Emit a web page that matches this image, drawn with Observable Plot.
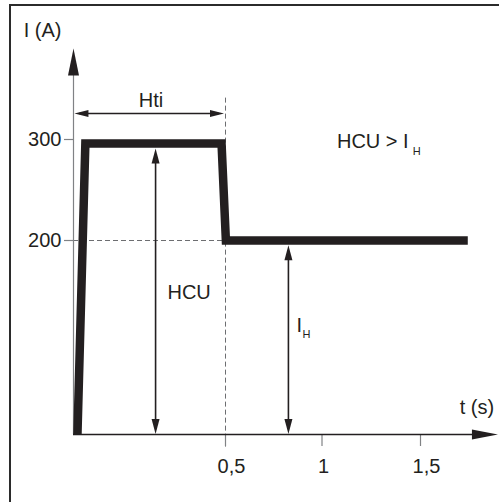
<!DOCTYPE html>
<html><head><meta charset="utf-8">
<script src="https://cdn.jsdelivr.net/npm/d3@7"></script>
<script src="https://cdn.jsdelivr.net/npm/@observablehq/plot@0.6"></script>
<style>
html,body{margin:0;padding:0;background:#fff;}
#wrap{position:relative;width:499px;height:502px;overflow:hidden;}
#wrap svg{position:absolute;left:0;top:0;}
#border{position:absolute;left:9px;top:4px;width:700px;height:700px;border-left:2px solid #2b2b2b;border-top:2.5px solid #2b2b2b;}
</style></head>
<body><div id="wrap"><div id="border"></div></div>
<script>
// Current profile (schematic): time in s, current in A
const signalT = [0.013, 0.039, 0.487, 0.502, 1.74];
const signalI = [0, 296, 296, 200, 200];
const yTicks = [200, 300];
const yTickLabels = ["200", "300"];
const xTicks = [0.5, 1, 1.5];
const xTickLabels = ["0,5", "1", "1,5"];

const signal = signalT.map((t, i) => ({t, I: signalI[i]}));
const ink = "#231f20";
const font = "Liberation Sans, Arial, Helvetica, sans-serif";

// filled arrowhead symbol, tip at the point, pointing along (dx,dy) in screen space
const head = (dx, dy, len, hw) => ({
  draw(ctx) {
    const bx = -dx * len, by = -dy * len, px = -dy * hw, py = dx * hw;
    ctx.moveTo(0, 0);
    ctx.lineTo(bx + px, by + py);
    ctx.lineTo(bx - px, by - py);
    ctx.closePath();
  }
});

const headDot = (pts, sym) => Plot.dot(pts, {x: "t", y: "I", symbol: sym, fill: ink, stroke: "none"});

const txt = (label, t, I, opts = {}) =>
  Plot.text([{t, I, label}], {x: "t", y: "I", text: "label", fill: ink, fontFamily: font, fontSize: 20,
    textAnchor: "start", lineAnchor: "bottom", ...opts});

const chart = Plot.plot({
  width: 499, height: 502, margin: 0,
  x: {type: "linear", domain: [0, 0.5, 1, 1.5], range: [73, 225, 321.5, 420], axis: null},
  y: {type: "linear", domain: [0, 200, 300], range: [434, 240, 139], axis: null},
  style: {background: "transparent", overflow: "visible"},
  marks: [
    // dashed guides
    Plot.ruleY([200], {x1: 0, x2: 0.49, stroke: "#6d6e71", strokeWidth: 1, strokeDasharray: "5,3"}),
    Plot.ruleX([0.5], {y1: -13, y2: 343.6, stroke: "#6d6e71", strokeWidth: 1, strokeDasharray: "5,3"}),
    // ticks
    Plot.ruleY(yTicks, {x1: -0.0296, x2: 0, stroke: "#808285", strokeWidth: 1.2}),
    Plot.ruleX(xTicks, {y1: 0, y2: -12.4, stroke: "#808285", strokeWidth: 1.2}),
    // axes
    Plot.ruleX([0], {y1: 0, y2: 372, stroke: "#808285", strokeWidth: 1.2}),
    headDot([{t: 0, I: 390}], head(0, -1, 27, 5.5)),
    Plot.ruleY([0], {x1: 0, x2: 1.8, stroke: ink, strokeWidth: 1.4}),
    headDot([{t: 1.893, I: 0}], head(1, 0, 26, 5)),
    // signal
    Plot.line(signal, {x: "t", y: "I", stroke: ink, strokeWidth: 8.5, strokeLinejoin: "miter",
      strokeLinecap: "butt", strokeMiterlimit: 10}),
    // Hti double arrow
    Plot.ruleY([325.7], {x1: 0.02, x2: 0.48, stroke: ink, strokeWidth: 1.4}),
    headDot([{t: 0.003, I: 325.7}], head(-1, 0, 14, 3.5)),
    headDot([{t: 0.495, I: 325.7}], head(1, 0, 14, 3.5)),
    // HCU double arrow
    Plot.ruleX([0.27], {y1: 5, y2: 285, stroke: ink, strokeWidth: 1.6}),
    headDot([{t: 0.27, I: 291}], head(0, -1, 15, 4)),
    headDot([{t: 0.27, I: 0.4}], head(0, 1, 15, 4)),
    // I_H double arrow
    Plot.ruleX([0.826], {y1: 5, y2: 189, stroke: ink, strokeWidth: 1.6}),
    headDot([{t: 0.826, I: 195}], head(0, -1, 15, 4)),
    headDot([{t: 0.826, I: 0.4}], head(0, 1, 15, 4)),
    // tick labels
    Plot.text(yTicks, {x: () => -0.0395, y: d => d, text: (d, i) => yTickLabels[i], fill: ink,
      fontFamily: font, fontSize: 20, textAnchor: "end", lineAnchor: "middle"}),
    Plot.text(xTicks.filter(d => d !== 1), {x: d => d, y: () => -40.2, text: d => xTickLabels[xTicks.indexOf(d)],
      fill: ink, fontFamily: font, fontSize: 20, textAnchor: "middle", lineAnchor: "bottom", dx: 6}),
    Plot.text(xTicks.filter(d => d === 1), {x: d => d, y: () => -40.2, text: d => xTickLabels[xTicks.indexOf(d)],
      fill: ink, fontFamily: font, fontSize: 20, textAnchor: "middle", lineAnchor: "bottom", dx: 1.5}),
    // annotations
    txt("I (A)", -0.164, 401.3),
    txt("t (s)", 1.699, 21.3),
    txt("Hti", 0.255, 332, {textAnchor: "middle"}),
    txt("HCU", 0.309, 140.2),
    txt("I", 0.868, 105.2),
    txt("H", 0.899, 99, {fontSize: 11}),
    txt("HCU > I", 1.076, 291.1),
    txt("H", 1.461, 284.2, {fontSize: 11})
  ]
});
document.getElementById("wrap").appendChild(chart);
</script>
</body></html>
